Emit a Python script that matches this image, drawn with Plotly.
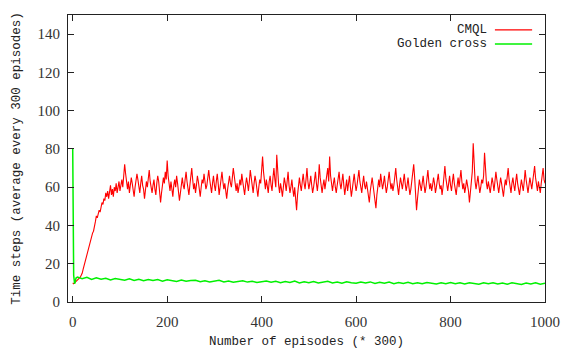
import plotly.graph_objects as go

# ---- data ----
cmql_x = list(range(0, 1001, 2))
cmql_y = [
    # 0-98
    10, 9.5, 10, 10.5, 11, 11, 12, 12.5, 13, 14,
    15, 17, 19, 21, 23, 25, 27, 29, 31, 32,
    34, 36, 37, 39, 42, 45, 44, 46, 48, 47,
    50, 52, 51, 54, 53, 57, 55, 58, 54, 57,
    61, 56, 59, 55, 60, 58, 62, 57, 60, 63,
    # 100-198
    58, 61, 64, 60, 66, 72, 67, 62, 59, 63,
    57, 61, 65, 62, 58, 55, 60, 63, 67, 64,
    60, 57, 62, 66, 61, 59, 54, 58, 63, 60,
    65, 69, 63, 60, 57, 61, 64, 59, 56, 62,
    66, 63, 58, 52, 57, 61, 65, 62, 68, 64,
    # 200-298
    74, 66, 61, 58, 63, 59, 55, 61, 64, 60,
    66, 62, 58, 53, 57, 62, 65, 61, 59, 64,
    68, 63, 60, 56, 61, 65, 70, 64, 59, 62,
    57, 61, 66, 63, 58, 55, 60, 64, 62, 67,
    63, 59, 61, 65, 69, 64, 60, 57, 62, 66,
    # 300-398
    61, 58, 63, 67, 62, 56, 60, 64, 68, 63,
    59, 62, 57, 54, 59, 63, 66, 62, 60, 65,
    70, 66, 61, 58, 62, 57, 60, 64, 61, 67,
    63, 59, 56, 61, 65, 62, 58, 63, 69, 65,
    60, 57, 62, 66, 63, 59, 55, 60, 64, 62,
    # 400-498
    67, 76, 68, 62, 59, 64, 60, 57, 63, 66,
    61, 58, 65, 70, 64, 60, 77, 66, 61, 57,
    62, 59, 55, 60, 65, 62, 58, 63, 68, 61,
    57, 60, 64, 59, 55, 60, 52, 48, 56, 62,
    65, 61, 58, 63, 67, 62, 59, 64, 70, 63,
    # 500-598
    59, 62, 66, 61, 57, 60, 64, 68, 62, 58,
    63, 72, 65, 60, 57, 61, 64, 59, 62, 66,
    70, 63, 76, 66, 61, 58, 62, 65, 60, 57,
    61, 64, 68, 62, 59, 63, 67, 61, 56, 60,
    64, 58, 62, 66, 60, 55, 59, 63, 67, 62,
    # 600-698
    58, 61, 65, 69, 63, 60, 57, 62, 66, 61,
    59, 63, 60, 56, 52, 58, 62, 65, 61, 57,
    53, 49, 56, 61, 64, 60, 67, 63, 59, 62,
    66, 61, 57, 60, 64, 68, 63, 59, 62, 58,
    61, 65, 70, 64, 60, 56, 61, 65, 62, 59,
    # 700-798
    63, 67, 62, 58, 61, 65, 60, 56, 59, 63,
    68, 72, 65, 55, 48, 54, 60, 64, 61, 58,
    62, 66, 61, 57, 60, 64, 69, 63, 59, 62,
    58, 61, 65, 62, 57, 60, 63, 67, 62, 59,
    61, 56, 60, 64, 71, 65, 61, 58, 62, 66,
    # 800-898
    61, 58, 63, 67, 62, 59, 56, 61, 65, 60,
    64, 69, 63, 59, 62, 57, 60, 64, 61, 58,
    52, 57, 62, 68, 83, 70, 63, 59, 62, 66,
    61, 57, 60, 64, 62, 66, 78, 67, 62, 59,
    63, 60, 57, 61, 65, 62, 58, 63, 68, 64,
    # 900-998
    60, 57, 61, 65, 62, 59, 55, 60, 64, 61,
    66, 70, 64, 60, 57, 62, 65, 61, 58, 63,
    67, 62, 59, 56, 60, 64, 61, 58, 63, 69,
    64, 60, 57, 61, 65, 62, 59, 63, 67, 71,
    65, 61, 58, 63, 60, 57, 62, 66, 70, 64,
    # 1000
    62,
]

golden_x = [0, 2, 4, 7] + list(range(10, 1001, 10))
golden_y = [
    80, 14, 9.5, 12.5,
    13.0, 12.2, 12.9, 11.8, 12.6, 11.9, 12.4, 11.5, 12.3, 11.7,
    11.4, 12.1, 11.3, 11.9, 11.1, 11.8, 11.2, 11.7, 10.9, 11.6,
    11.1, 10.7, 11.5, 10.8, 11.2, 11.4, 10.6, 11.1, 10.5, 11.0,
    11.3, 10.5, 11.0, 10.3, 10.9, 11.1, 10.4, 10.8, 10.2, 10.7,
    11.0, 10.3, 10.8, 10.1, 10.7, 10.2, 10.9, 10.0, 10.6, 10.1,
    10.7, 9.9, 10.5, 10.8, 10.0, 10.4, 9.8, 10.6, 10.1, 9.8,
    10.4, 9.9, 10.5, 9.7, 10.3, 9.8, 10.4, 9.6, 10.2, 9.7,
    10.3, 9.6, 10.1, 9.5, 10.2, 9.7, 9.4, 10.1, 9.6, 10.2,
    9.5, 10.0, 9.4, 10.1, 9.6, 9.3, 10.0, 9.5, 10.1, 9.4,
    9.9, 9.3, 10.0, 9.5, 9.2, 9.9, 9.4, 10.0, 9.3, 9.8,
]

series_names = ["CMQL", "Golden cross"]
series_colors = ["#ff0000", "#00f000"]

x_ticks = [0, 200, 400, 600, 800, 1000]
y_ticks = [0, 20, 40, 60, 80, 100, 120, 140]

x_title = "Number of episodes (* 300)"
y_title = "Time steps (average every 300 episodes)"

# ---- figure ----
fig = go.Figure()
fig.add_trace(go.Scatter(x=cmql_x, y=cmql_y, mode="lines", name=series_names[0],
                         line=dict(color=series_colors[0], width=1.1), showlegend=False))
fig.add_trace(go.Scatter(x=golden_x, y=golden_y, mode="lines", name=series_names[1],
                         line=dict(color=series_colors[1], width=1.5), showlegend=False))

tick_font = dict(family="Liberation Serif, Times New Roman, Times, serif", size=15, color="#333333")
title_font = dict(family="Liberation Mono, monospace", size=12.5, color="#222222")

axis_common = dict(
    showgrid=False, zeroline=False, showline=True, linecolor="#222222", linewidth=1,
    mirror="ticks", ticks="inside", ticklen=6, tickcolor="#222222", tickfont=tick_font,
    automargin=False,
)

fig.update_layout(
    width=570, height=349,
    margin=dict(l=68, r=25, t=15, b=47),
    plot_bgcolor="white", paper_bgcolor="white",
    xaxis=dict(range=[-10, 1000], tickvals=x_ticks, ticklabelstandoff=6,
               title=dict(text=x_title, font=title_font, standoff=10), **axis_common),
    yaxis=dict(range=[0, 150], tickvals=y_ticks, ticklabelstandoff=4,
               title=dict(text=y_title, font=title_font, standoff=14), **axis_common),
)

# gnuplot-style key: text right-aligned, sample line to the right
key_rows_y = [0.948, 0.899]
for name, color, yk in zip(series_names, series_colors, key_rows_y):
    fig.add_annotation(xref="paper", yref="paper", x=0.883, y=yk, text=name,
                       showarrow=False, xanchor="right", yanchor="middle",
                       font=dict(family="Liberation Mono, monospace", size=12.5, color="#222222"))
    fig.add_shape(type="line", xref="paper", yref="paper", x0=0.895, x1=0.973,
                  y0=yk, y1=yk, line=dict(color=color, width=1.4))

fig.write_html("out.html", config={"displayModeBar": False},
               post_script="document.body.style.margin='0';document.body.style.overflow='hidden';")
